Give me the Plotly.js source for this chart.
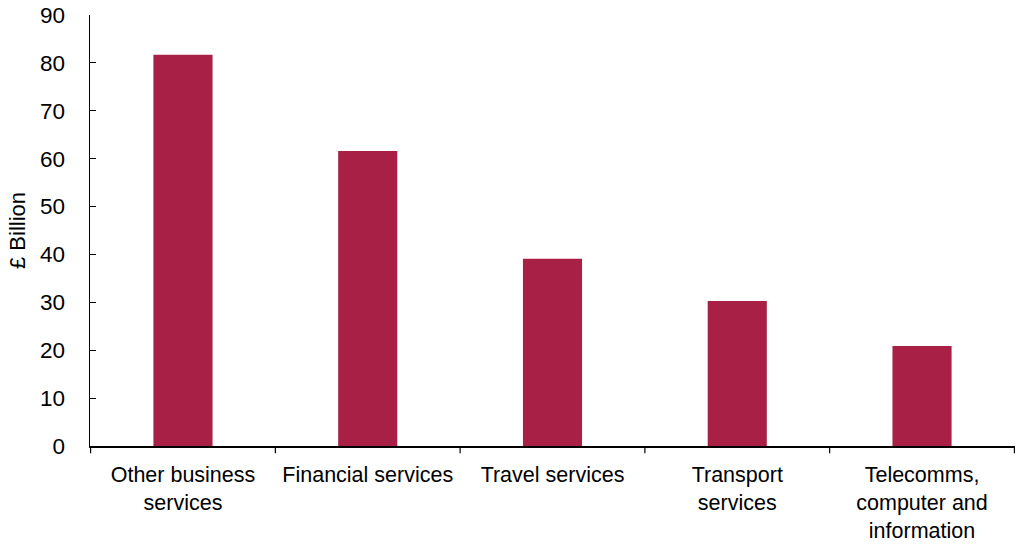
<!DOCTYPE html>
<html>
<head>
<meta charset="utf-8">
<script src="https://cdn.plot.ly/plotly-3.0.1.min.js"></script>
<style>html,body{margin:0;padding:0;background:#fff;}#chart{width:1018px;height:546px;}</style>
</head>
<body>
<div id="chart"></div>
<script>
var categories = [
  "Other business<br>services",
  "Financial services",
  "Travel services",
  "Transport<br>services",
  "Telecomms,<br>computer and<br>information"
];
var values = [81.7, 61.6, 39.1, 30.3, 20.9];
var yTicks = [0, 10, 20, 30, 40, 50, 60, 70, 80, 90];

var trace = {
  type: "bar",
  x: categories,
  y: values,
  marker: {color: "#A82046"},
  width: 0.32,
  hoverinfo: "x+y"
};

var font = "Liberation Sans, Arial, sans-serif";
var layout = {
  width: 1018,
  height: 546,
  margin: {l: 90, r: 3, t: 15, b: 100},
  paper_bgcolor: "#ffffff",
  plot_bgcolor: "#ffffff",
  showlegend: false,
  font: {family: font, color: "#000000", size: 22},
  xaxis: {
    type: "category",
    showline: true,
    linecolor: "#000000",
    linewidth: 1.5,
    ticks: "",
    ticklabelstandoff: 9,
    showgrid: false,
    zeroline: false,
    tickfont: {family: font, size: 21.5, color: "#000000"},
    fixedrange: true
  },
  yaxis: {
    range: [0, 90],
    tickvals: yTicks,
    ticktext: yTicks.map(String),
    showline: true,
    linecolor: "#000000",
    linewidth: 1.5,
    ticks: "inside",
    ticklen: 6,
    tickwidth: 1.2,
    tickcolor: "#000000",
    ticklabelstandoff: 19,
    showgrid: false,
    zeroline: false,
    tickfont: {family: font, size: 22.5, color: "#000000"},
    title: {text: "£ Billion", font: {family: font, size: 22, color: "#000000"}, standoff: 8},
    fixedrange: true
  },
  shapes: []
};

// category-boundary ticks on the x axis (outside, pointing down)
for (var i = 0; i <= categories.length; i++) {
  layout.shapes.push({
    type: "line",
    xref: "x", yref: "paper",
    x0: i - 0.5, x1: i - 0.5,
    y0: 0, y1: -0.017,
    line: {color: "#000000", width: 1.2}
  });
}

Plotly.newPlot("chart", [trace], layout, {displayModeBar: false, staticPlot: true});
</script>
</body>
</html>
